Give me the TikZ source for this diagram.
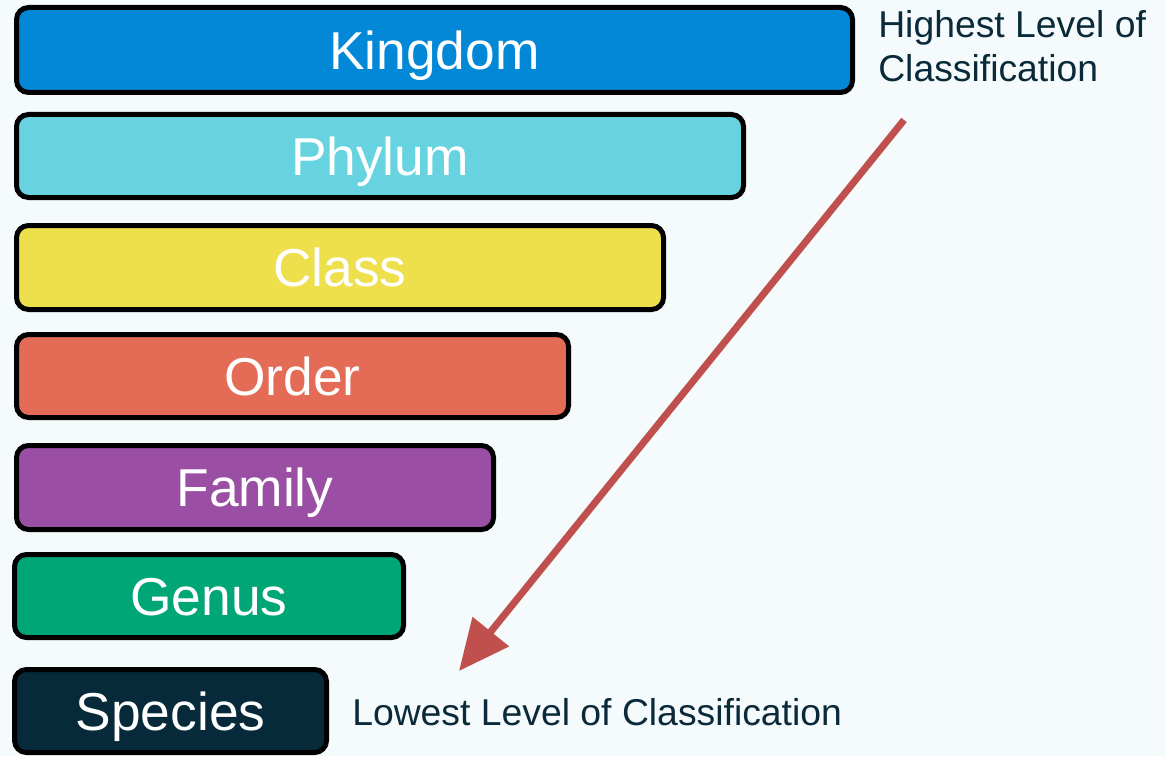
\documentclass[tikz,border=0pt]{standalone}
\usepackage{fontspec}
\setmainfont{Liberation Sans}
\usetikzlibrary{arrows.meta}
\definecolor{bg}{HTML}{F5FBFC}
\definecolor{ckingdom}{HTML}{0288D6}
\definecolor{cphylum}{HTML}{68D3E0}
\definecolor{cclass}{HTML}{EEDF4C}
\definecolor{corder}{HTML}{E46B56}
\definecolor{cfamily}{HTML}{9B4FA4}
\definecolor{cgenus}{HTML}{00A676}
\definecolor{cspecies}{HTML}{062A3A}
\definecolor{labeltext}{HTML}{0A2A3A}
\definecolor{arrowred}{HTML}{C0504D}
\tikzset{
  rankbox/.style={draw=black, line width=3.75pt, rounded corners=9pt, inner sep=0pt,
    text=white, font=\fontsize{40}{45}\selectfont, text height=28.6pt, text depth=0pt},
  sidelabel/.style={text=labeltext, font=\fontsize{28}{33}\selectfont, inner sep=0pt, align=left},
  bigarrow/.style={draw=arrowred, line width=5.25pt, -{Triangle[length=38pt,width=34pt]}}
}
\begin{document}
\begin{tikzpicture}[x=0.75pt,y=-0.75pt]
\fill[bg] (0,0) rectangle (1166,756);
\useasboundingbox (0,0) rectangle (1166,756);
% boxes: outer extents minus line width
\node[rankbox, fill=ckingdom, minimum width=836*0.75pt, minimum height=85*0.75pt] (kingdom) at (434.5,50) {Kingdom};
\node[rankbox, fill=cphylum, minimum width=727*0.75pt, minimum height=83*0.75pt] (phylum) at (380,156) {Phylum};
\node[rankbox, fill=cclass, minimum width=647*0.75pt, minimum height=84*0.75pt] (class) at (340,267.5) {Class};
\node[rankbox, fill=corder, minimum width=552*0.75pt, minimum height=83*0.75pt] (order) at (292.5,376) {Order};
\node[rankbox, fill=cfamily, minimum width=477*0.75pt, minimum height=84*0.75pt] (family) at (255,487.5) {Family};
\node[rankbox, fill=cgenus, minimum width=389*0.75pt, minimum height=83*0.75pt] (genus) at (209,596) {Genus};
\node[rankbox, fill=cspecies, minimum width=312*0.75pt, minimum height=83*0.75pt] (species) at (170.5,711) {Species};
% labels
\node[sidelabel, anchor=north west] (highest) at (878,10) {Highest Level of\\Classification};
\node[sidelabel, anchor=base west] (lowest) at (352,725) {Lowest Level of Classification};
% arrow
\coordinate (astart) at (904,120);
\coordinate (aend) at (459,671);
\draw[bigarrow] (astart) -- (aend);
\end{tikzpicture}
\end{document}
